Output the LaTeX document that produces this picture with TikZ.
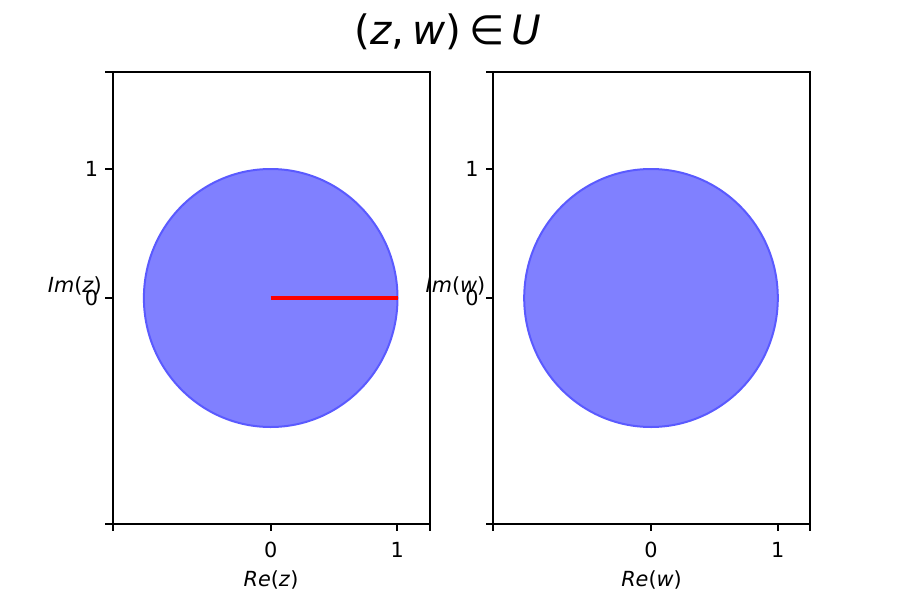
\documentclass[tikz,border=0pt]{standalone}
\usepackage{fontspec}
\setmainfont{DejaVu Sans}
\definecolor{diskfill}{RGB}{128,128,255}
\definecolor{diskedge}{RGB}{90,90,255}
\begin{document}
\begin{tikzpicture}[x=1pt,y=-1pt,
  frame/.style={line width=1.67pt, black},
  tickmark/.style={line width=1.67pt, black},
  ticklab/.style={inner sep=0pt, font=\fontsize{20.8}{24}\selectfont},
  axlab/.style={inner sep=0pt, font=\fontsize{20.8}{24}\selectfont},
  disk/.style={fill=diskfill, draw=diskedge, line width=2pt},
  radius line/.style={red, line width=3.1pt}]
\useasboundingbox (0,0) rectangle (900,600);

% title
\node[inner sep=0pt, anchor=base, font=\fontsize{40.5}{48}\selectfont] (title) at (448,44.6)
  {(\textit{z},\hspace{0.2em}\textit{w})\hspace{0.18em}∈\hspace{0.18em}\textit{U}};

% ---------- left panel ----------
\begin{scope}
\coordinate (c1) at (270.7,298);
\fill[disk] (c1) ellipse [x radius=126.8, y radius=129];
\coordinate (e1) at (397.5,298);
\draw[radius line] (c1) -- (e1);
\draw[frame] (112.7,72) rectangle (429.7,524);
\foreach \x in {112.7,270.7,397.3,429.7} \draw[tickmark] (\x,524) -- (\x,531.3);
\foreach \y in {72,169,298,524} \draw[tickmark] (112.7,\y) -- (105.4,\y);
\node[ticklab, anchor=base] (lx0) at (270.7,557) {0};
\node[ticklab, anchor=base] (lx1) at (397.3,557) {1};
\node[ticklab, anchor=east] (ly1) at (98.4,169) {1};
\node[ticklab, anchor=east] (ly0) at (98.4,298) {0};
\node[axlab, anchor=base] (rez) at (271,586) {\textit{Re}(\textit{z})};
\node[axlab, anchor=base east] (imz) at (102,292) {\textit{Im}(\textit{z})};
\end{scope}

% ---------- right panel ----------
\begin{scope}
\coordinate (c2) at (651,298);
\fill[disk] (c2) ellipse [x radius=126.8, y radius=129];
\draw[frame] (493,72) rectangle (810,524);
\foreach \x in {493,651,777.7,810} \draw[tickmark] (\x,524) -- (\x,531.3);
\foreach \y in {72,169,298,524} \draw[tickmark] (493,\y) -- (485.7,\y);
\node[ticklab, anchor=base] (rx0) at (651,557) {0};
\node[ticklab, anchor=base] (rx1) at (777.7,557) {1};
\node[ticklab, anchor=east] (ry1) at (478.7,169) {1};
\node[ticklab, anchor=east] (ry0) at (478.7,298) {0};
\node[axlab, anchor=base] (rew) at (651.5,586) {\textit{Re}(\textit{w})};
\node[axlab, anchor=base east] (imw) at (485.5,292) {\textit{Im}(\textit{w})};
\end{scope}
\end{tikzpicture}
\end{document}
